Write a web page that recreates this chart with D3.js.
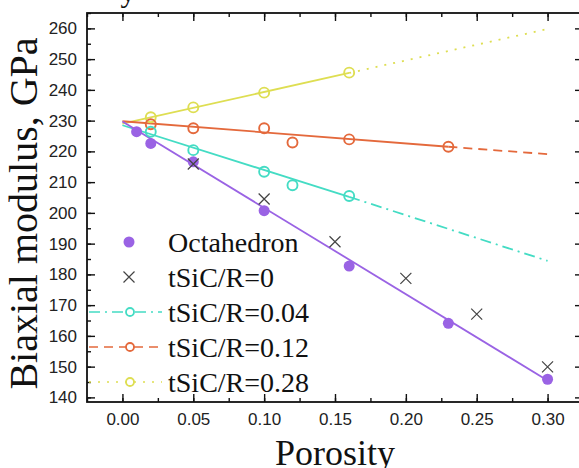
<!DOCTYPE html>
<html><head><meta charset="utf-8">
<script src="https://cdn.jsdelivr.net/npm/d3@7"></script>
<style>html,body{margin:0;padding:0;background:#fff;overflow:hidden}</style>
</head><body>
<svg id="c" width="579" height="468"></svg>
<script>
// ---- data ----
const xTicks = [0.00, 0.05, 0.10, 0.15, 0.20, 0.25, 0.30];
const yTicks = [140,150,160,170,180,190,200,210,220,230,240,250,260];
const octaX = [0.01, 0.02, 0.05, 0.10, 0.16, 0.23, 0.30];
const octaY = [226.4, 222.6, 216.6, 200.7, 182.7, 164.1, 145.9];
const r0X = [0.05, 0.10, 0.15, 0.20, 0.25, 0.30];
const r0Y = [215.9, 204.5, 190.6, 178.7, 167.1, 149.9];
const r04X = [0.02, 0.05, 0.10, 0.12, 0.16];
const r04Y = [226.4, 220.4, 213.4, 209.0, 205.5];
const r12X = [0.02, 0.05, 0.10, 0.12, 0.16, 0.23];
const r12Y = [228.8, 227.5, 227.5, 222.9, 223.9, 221.5];
const r28X = [0.02, 0.05, 0.10, 0.16];
const r28Y = [231.1, 234.3, 239.1, 245.6];
// fitted lines: [x, y] (solid part, then extrapolated part)
const fitOcta = [[0, 229.7], [0.30, 145.5]];
const fit04 = [[0, 228.5], [0.16, 205.2]];
const ext04 = [[0.16, 205.2], [0.30, 184.4]];
const fit12 = [[0, 229.8], [0.23, 221.5]];
const ext12 = [[0.23, 221.5], [0.30, 219.1]];
const fit28 = [[0, 229.0], [0.16, 245.5]];
const ext28 = [[0.16, 245.5], [0.30, 259.8]];
const legendLabels = ["Octahedron", "tSiC/R=0", "tSiC/R=0.04", "tSiC/R=0.12", "tSiC/R=0.28"];

// ---- styles ----
const cPurple = "#9a63e4", cCyan = "#44dcc4", cOrange = "#e4693c", cYellow = "#dede52", cCross = "#444";
const L = 87, R = 583, T = 13, B = 402;
const svg = d3.select("#c");
const x = d3.scaleLinear().domain([-0.025, 0.325]).range([L, R]);
const y = d3.scaleLinear().domain([138.5, 265]).range([B, T]);
const line = d3.line().x(d => x(d[0])).y(d => y(d[1]));

// axes (ticks inward)
const minorX = d3.range(-0.025, 0.3251, 0.025).map(v => +v.toFixed(3));
const minorY = d3.range(140, 265.1, 5);
function axisG(axis, tx, ty) { return svg.append("g").attr("transform", `translate(${tx},${ty})`).call(axis); }
const sty = g => { g.select(".domain").remove(); g.selectAll("line").attr("stroke", "#111").attr("stroke-width", 1.4); };
// minor ticks
axisG(d3.axisBottom(x).tickValues(minorX).tickSize(-4).tickFormat(""), 0, B).call(sty);
axisG(d3.axisTop(x).tickValues(minorX).tickSize(-4).tickFormat(""), 0, T).call(sty);
axisG(d3.axisLeft(y).tickValues(minorY).tickSize(-4).tickFormat(""), L, 0).call(sty);
axisG(d3.axisRight(y).tickValues(minorY).tickSize(-4).tickFormat(""), R, 0).call(sty);
// major ticks
const bx = axisG(d3.axisBottom(x).tickValues(xTicks).tickSize(-8).tickPadding(11).tickFormat(d3.format(".2f")), 0, B).call(sty);
axisG(d3.axisTop(x).tickValues(xTicks).tickSize(-8).tickFormat(""), 0, T).call(sty);
const ly = axisG(d3.axisLeft(y).tickValues(yTicks).tickSize(-8).tickPadding(10).tickFormat(d3.format("d")), L, 0).call(sty);
axisG(d3.axisRight(y).tickValues(yTicks).tickSize(-8).tickFormat(""), R, 0).call(sty);
[bx, ly].forEach(g => g.selectAll("text").attr("font-family", "Liberation Sans, Arial, sans-serif").attr("font-size", 17).attr("fill", "#222"));
// frame
svg.append("rect").attr("x", L).attr("y", T).attr("width", R - L).attr("height", B - T)
  .attr("fill", "none").attr("stroke", "#111").attr("stroke-width", 1.8);

// titles
svg.append("text").attr("transform", `translate(37,${(T + B) / 2 + 6}) rotate(-90)`).attr("text-anchor", "middle")
  .attr("font-family", "Liberation Serif, Times New Roman, serif").attr("font-size", 40).attr("fill", "#111")
  .text("Biaxial modulus, GPa");
svg.append("text").attr("x", (L + R) / 2).attr("y", 465).attr("text-anchor", "middle")
  .attr("font-family", "Liberation Serif, Times New Roman, serif").attr("font-size", 36).attr("fill", "#111")
  .text("Porosity");
svg.append("text").attr("x", 128).attr("y", 2).attr("text-anchor", "middle")
  .attr("font-family", "Liberation Serif, Times New Roman, serif").attr("font-size", 30).attr("fill", "#111")
  .text("y");

// lines
const drawLine = (d, c, dash) => svg.append("path").datum(d).attr("d", line).attr("fill", "none")
  .attr("stroke", c).attr("stroke-width", 1.8).attr("stroke-dasharray", dash || null);
drawLine(fit28, cYellow); drawLine(ext28, cYellow, "2,7");
drawLine(fit12, cOrange); drawLine(ext12, cOrange, "9,6");
drawLine(fit04, cCyan); drawLine(ext04, cCyan, "11,5,2,5");
drawLine(fitOcta, cPurple);

// points
const openPts = (xs, ys, c) => svg.append("g").selectAll("circle").data(xs.map((v, i) => [v, ys[i]])).join("circle")
  .attr("cx", d => x(d[0])).attr("cy", d => y(d[1])).attr("r", 5).attr("fill", "none").attr("stroke", c).attr("stroke-width", 1.9);
openPts(r28X, r28Y, cYellow);
openPts(r12X, r12Y, cOrange);
openPts(r04X, r04Y, cCyan);
svg.append("g").selectAll("circle").data(octaX.map((v, i) => [v, octaY[i]])).join("circle")
  .attr("cx", d => x(d[0])).attr("cy", d => y(d[1])).attr("r", 5.5).attr("fill", cPurple);
const crossPath = (cx, cy, s) => `M${cx - s},${cy - s}L${cx + s},${cy + s}M${cx - s},${cy + s}L${cx + s},${cy - s}`;
svg.append("g").selectAll("path").data(r0X.map((v, i) => [v, r0Y[i]])).join("path")
  .attr("d", d => crossPath(x(d[0]), y(d[1]), 5.5)).attr("stroke", cCross).attr("stroke-width", 1.2).attr("fill", "none");

// legend
const lgY0 = 242, lgDY = 35, lgMx = 129, lgL1 = 89, lgL2 = 162, lgTx = 168;
const lg = svg.append("g");
legendLabels.forEach((t, i) => {
  const yy = lgY0 + i * lgDY;
  if (i === 0) lg.append("circle").attr("cx", lgMx).attr("cy", yy).attr("r", 5.5).attr("fill", cPurple);
  else if (i === 1) lg.append("path").attr("d", crossPath(lgMx, yy, 5.5)).attr("stroke", cCross).attr("stroke-width", 1.2);
  else {
    const c = [cCyan, cOrange, cYellow][i - 2], dash = ["11,5,2,5", "9,6", "2,7"][i - 2];
    lg.append("line").attr("x1", lgL1).attr("x2", lgL2).attr("y1", yy).attr("y2", yy).attr("stroke", c).attr("stroke-width", 1.6).attr("stroke-dasharray", dash);
    lg.append("circle").attr("cx", lgMx + 1).attr("cy", yy).attr("r", 4).attr("fill", "#fff").attr("stroke", c).attr("stroke-width", 1.8);
  }
  lg.append("text").attr("x", lgTx).attr("y", yy + 10).attr("font-family", "Liberation Serif, Times New Roman, serif")
    .attr("font-size", 28).attr("fill", "#111").text(t);
});
</script>
</body></html>
